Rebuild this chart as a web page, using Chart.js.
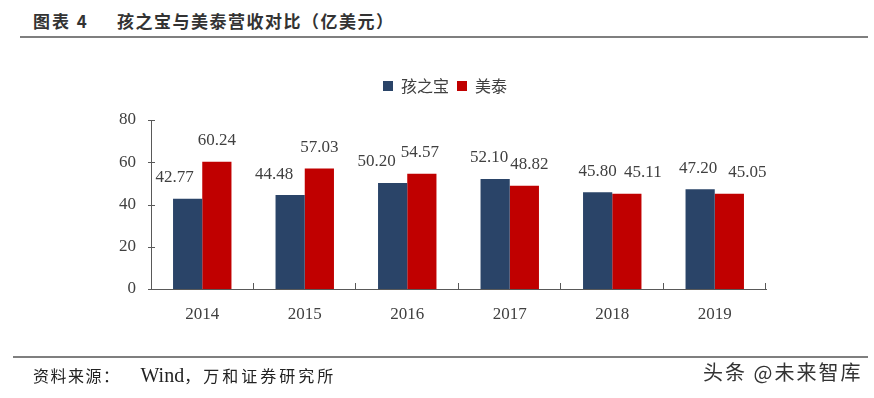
<!DOCTYPE html>
<html>
<head>
<meta charset="utf-8">
<script src="https://cdn.jsdelivr.net/npm/chart.js@4/dist/chart.umd.min.js"></script>
<style>
  body { margin: 0; background: #fff; }
  #wrap { position: relative; width: 874px; height: 398px; overflow: hidden; }
  #chart { position: absolute; left: 0; top: 0; }
  .rule { position: absolute; height: 2px; background: #7f7f7f; }
  #title { position: absolute; left: 33px; top: 8px; font: bold 17px "Noto Sans CJK SC"; color: #333; white-space: nowrap; letter-spacing: 2px; }
  #title .sub { position: absolute; left: 84px; top: 0; letter-spacing: 1.5px; }
  #footer { position: absolute; left: 33px; top: 363px; font: 16px "Noto Sans CJK SC"; color: #222; white-space: nowrap; letter-spacing: 1.5px; }
  #footer .en { font: 20px "Liberation Serif"; letter-spacing: 0; margin-left: 20px; }
  #footer .org { letter-spacing: 3px; }
  #mark { position: absolute; left: 703px; top: 357px; font: 20px "Noto Sans CJK SC"; color: #333; white-space: nowrap; letter-spacing: 2px; }
</style>
</head>
<body>
<div id="wrap">
  <div id="title">图表 4<span class="sub">孩之宝与美泰营收对比（亿美元）</span></div>
  <div class="rule" style="left:20px; top:36px; width:848px;"></div>
  <canvas id="chart" width="874" height="398"></canvas>
  <div class="rule" style="left:13px; top:356px; width:855px;"></div>
  <div id="footer">资料来源：<span class="en">Wind</span><span class="org">，万和证券研究所</span></div>
  <div id="mark">头条 @未来智库</div>
</div>
<script>
var years = ['2014', '2015', '2016', '2017', '2018', '2019'];
var hasbro = [42.77, 44.48, 50.20, 52.10, 45.80, 47.20];
var mattel = [60.24, 57.03, 54.57, 48.82, 45.11, 45.05];
var yTicks = [0, 20, 40, 60, 80];

// horizontal nudges of the value labels, so they do not collide
var labelShift = [
    [-13, -16, -16, -6, 0, -2],
    [0, 0, -2, 5, 16, 18]
];

var serif = '"Liberation Serif", "Times New Roman", serif';
var grey = '#404040';

var valueLabels = {
    id: 'valueLabels',
    afterDatasetsDraw: function(chart) {
        var ctx = chart.ctx;
        ctx.save();
        ctx.font = '17px ' + serif;
        ctx.fillStyle = grey;
        ctx.textAlign = 'center';
        ctx.textBaseline = 'middle';
        chart.data.datasets.forEach(function(ds, d) {
            chart.getDatasetMeta(d).data.forEach(function(bar, i) {
                ctx.fillText(ds.data[i].toFixed(2), bar.x + labelShift[d][i], bar.y - 21);
            });
        });
        ctx.restore();
    }
};

var axisTicks = {
    id: 'axisTicks',
    afterDraw: function(chart) {
        var ctx = chart.ctx;
        var xs = chart.scales.x, ys = chart.scales.y;
        var left = chart.chartArea.left, bottom = chart.chartArea.bottom;
        ctx.save();
        ctx.strokeStyle = '#595959';
        ctx.lineWidth = 1;
        ctx.beginPath();
        yTicks.forEach(function(v) {
            var y = Math.round(ys.getPixelForValue(v)) + 0.5;
            ctx.moveTo(left - 3, y);
            ctx.lineTo(left + 4, y);
        });
        for (var i = 1; i <= years.length; i++) {
            var x = i < years.length
                ? (xs.getPixelForTick(i - 1) + xs.getPixelForTick(i)) / 2
                : chart.chartArea.right;
            x = Math.round(x) - 0.5;
            ctx.moveTo(x, bottom);
            ctx.lineTo(x, bottom - 6);
        }
        ctx.stroke();
        ctx.restore();
    }
};

// extra room under the legend, and move it right (it is centred over the page, not the plot)
var legendPlace = {
    id: 'legendPlace',
    beforeInit: function(chart) {
        var fit = chart.legend.fit;
        chart.legend.fit = function() {
            fit.bind(chart.legend)();
            this.height += 16;
        };
    },
    afterLayout: function(chart) {
        chart.legend.left += 62;
        chart.legend.right += 62;
    }
};

var ctx = document.getElementById('chart').getContext('2d');
var myChart = new Chart(ctx, {
    type: 'bar',
    data: {
        labels: years,
        datasets: [{
            label: '孩之宝',
            data: hasbro,
            backgroundColor: '#2A4468'
        }, {
            label: '美泰',
            data: mattel,
            backgroundColor: '#C00000'
        }]
    },
    options: {
        responsive: false,
        animation: false,
        categoryPercentage: 0.57,
        barPercentage: 1.0,
        layout: { padding: { left: 0, right: 108, top: 70, bottom: 0 } },
        plugins: {
            legend: {
                position: 'top',
                labels: {
                    boxWidth: 10,
                    boxHeight: 10,
                    padding: 8,
                    color: grey,
                    font: { family: '"Noto Sans CJK SC"', size: 16 }
                }
            },
            tooltip: { enabled: false }
        },
        scales: {
            x: {
                grid: { display: false, offset: true },
                border: { color: '#595959', width: 1 },
                ticks: { color: grey, padding: 7, font: { family: serif, size: 17 } },
                afterFit: function(s) { s.height = 109; }
            },
            y: {
                min: 0,
                max: 80,
                afterBuildTicks: function(s) { s.ticks = yTicks.map(function(v) { return { value: v }; }); },
                grid: { display: false },
                border: { color: '#595959', width: 1 },
                ticks: { color: grey, padding: 7, font: { family: serif, size: 17 } },
                afterFit: function(s) { s.width = 151; }
            }
        }
    },
    plugins: [valueLabels, axisTicks, legendPlace]
});
</script>
</body>
</html>
